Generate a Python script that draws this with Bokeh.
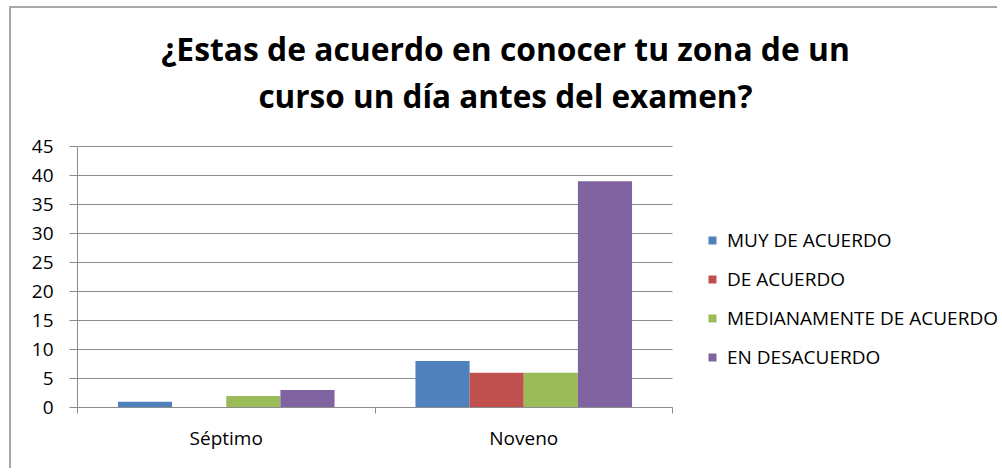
from bokeh.plotting import figure
from bokeh.models import (ColumnDataSource, Range1d, FixedTicker, Legend, LegendItem, Label)
from bokeh.embed import file_html
from bokeh.resources import INLINE

categories = ["Séptimo", "Noveno"]
series_names = ["MUY DE ACUERDO", "DE ACUERDO", "MEDIANAMENTE DE ACUERDO", "EN DESACUERDO"]
muy_de_acuerdo = [1, 8]
de_acuerdo = [0, 6]
medianamente = [2, 6]
en_desacuerdo = [3, 39]
y_ticks = [0, 5, 10, 15, 20, 25, 30, 35, 40, 45]
title_lines = ["¿Estas de acuerdo en conocer tu zona de un", "curso un día antes del examen?"]

colors = ["#4F81BD", "#C0504D", "#9BBB59", "#8064A2"]
series = [muy_de_acuerdo, de_acuerdo, medianamente, en_desacuerdo]

FONT = "Open Sans"
W, H = 988, 462
FL, FB = 66, 399
AXIS_W = 595          # pixel width of the category axis
AXIS_H = 261          # pixel height of the value axis
frame_w = W - FL      # frame reaches the right edge (room for the legend)
frame_h = FB          # frame reaches the top edge (room for the title)
n = len(categories)
y_max = y_ticks[-1]

p = figure(width=W, height=H, output_backend="svg", toolbar_location=None,
           x_range=Range1d(0, n * frame_w / AXIS_W),
           y_range=Range1d(0, y_max * frame_h / AXIS_H),
           min_border_left=FL, min_border_right=0, min_border_top=0,
           min_border_bottom=H - FB,
           styles={"border-left": "2px solid #a8a8a8", "border-top": "2px solid #a8a8a8",
                   "margin-left": "9px", "margin-top": "6px"})
p.outline_line_color = None
p.background_fill_color = "white"
p.border_fill_color = "white"

# horizontal grid lines limited to the category axis
p.segment(x0=[0] * len(y_ticks), x1=[n] * len(y_ticks), y0=y_ticks, y1=y_ticks,
          line_color="#8c8c8c", line_width=1)

bar_w = 0.182
offsets = [-0.273, -0.091, 0.091, 0.273]
renderers = []
for name, vals, col, off in zip(series_names, series, colors, offsets):
    xs = [i + 0.5 + off for i in range(n)]
    src = ColumnDataSource(dict(x=xs, top=vals))
    r = p.vbar(x="x", top="top", width=bar_w, bottom=0, source=src,
               fill_color=col, line_color=None)
    renderers.append((name, r))

# y axis
p.yaxis.bounds = (0, y_max)
p.yaxis.ticker = FixedTicker(ticks=y_ticks)
p.yaxis.axis_line_color = "#8c8c8c"
p.yaxis.major_tick_line_color = "#8c8c8c"
p.yaxis.major_tick_out = 8
p.yaxis.major_tick_in = 0
p.yaxis.minor_tick_line_color = None
p.yaxis.major_label_text_font = FONT
p.yaxis.major_label_text_font_size = "19px"
p.yaxis.major_label_text_color = "#000000"
p.yaxis.major_label_standoff = 16

# x axis: labels at centers, tick marks at boundaries
p.xaxis.bounds = (0, n)
p.xaxis.ticker = FixedTicker(ticks=[i + 0.5 for i in range(n)],
                             minor_ticks=list(range(n + 1)))
p.xaxis.major_label_overrides = {i + 0.5: c for i, c in enumerate(categories)}
p.xaxis.major_tick_line_color = None
p.xaxis.minor_tick_line_color = "#8c8c8c"
p.xaxis.minor_tick_out = 6
p.xaxis.minor_tick_in = 0
p.xaxis.axis_line_color = "#8c8c8c"
p.xaxis.major_label_text_font = FONT
p.xaxis.major_label_text_font_size = "19px"
p.xaxis.major_label_text_color = "#000000"
p.xaxis.major_label_standoff = 11

p.xgrid.grid_line_color = None
p.ygrid.grid_line_color = None

legend = Legend(items=[LegendItem(label=nm, renderers=[r]) for nm, r in renderers],
                location=(630, 37), orientation="vertical",
                label_text_font=FONT, label_text_font_size="19px",
                label_text_color="#000000",
                glyph_width=10, glyph_height=10, label_standoff=10,
                label_height=26, spacing=13, padding=0, margin=0,
                border_line_color=None, background_fill_alpha=0)
p.add_layout(legend, "center")

# two title lines (screen units: from the frame's bottom-left corner)
for txt, yy, fs in zip(title_lines, [359, 312], ["31.8px", "31.5px"]):
    p.add_layout(Label(x=428, y=yy, x_units="screen", y_units="screen", text=txt,
                       text_align="center", text_baseline="alphabetic",
                       text_font=FONT, text_font_size=fs, text_font_style="bold",
                       text_color="#000000"))

open("out.html", "w").write(file_html(p, INLINE))
